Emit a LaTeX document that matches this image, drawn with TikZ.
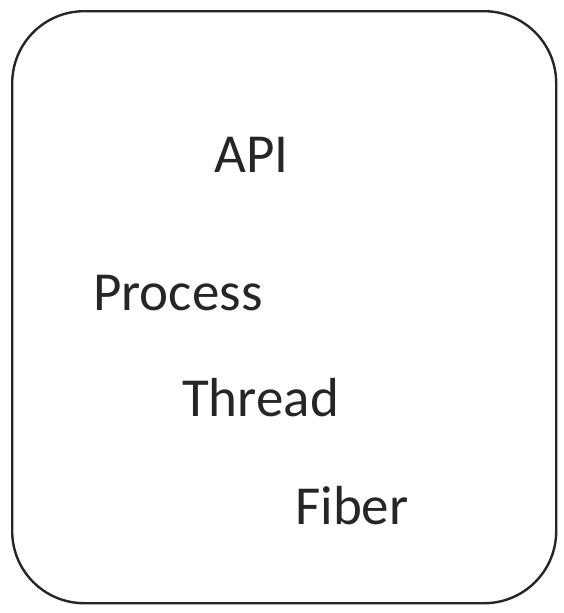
\documentclass[tikz,border=0pt]{standalone}
\usepackage{fontspec}
\setmainfont{Carlito}
\definecolor{ink}{HTML}{262626}
\begin{document}
\begin{tikzpicture}[x=1pt,y=-1pt,
  label/.style={anchor=base west,inner sep=0pt,text=ink,font=\fontsize{55}{60}\selectfont}]
\useasboundingbox (0,0) rectangle (563,613);
\node[draw=ink,line width=2.4pt,rounded corners=72pt,minimum width=544pt,minimum height=592pt,anchor=north west] (frame) at (11,10) {};
\node[label] (api) at (214,172) {API};
\node[label] (process) at (93,310) {Process};
\node[label] (thread) at (182,416) {Thread};
\node[label] (fiber) at (295,524) {Fiber};
\end{tikzpicture}
\end{document}
